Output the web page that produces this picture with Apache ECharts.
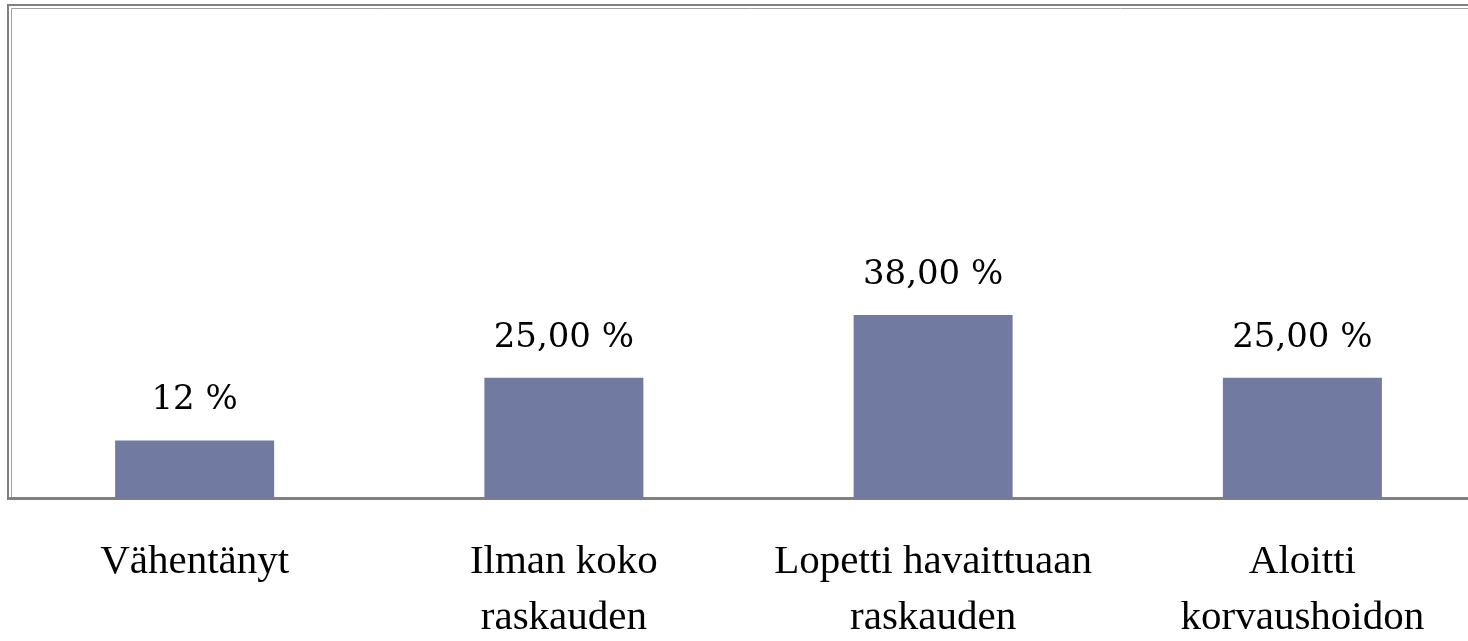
<!DOCTYPE html>
<html>
<head>
<meta charset="utf-8">
<style>
  html, body { margin: 0; padding: 0; background: #ffffff; overflow: hidden; }
  #chart { width: 1490px; height: 641px; }
</style>
<script src="https://cdn.jsdelivr.net/npm/echarts@6/dist/echarts.min.js"></script>
</head>
<body>
<div id="chart"></div>
<script>
// Categories (line breaks as shown under each bar)
const categories = [
  'Vähentänyt',
  'Ilman koko\nraskauden',
  'Lopetti havaittuaan\nraskauden',
  'Aloitti\nkorvaushoidon'
];
// Share of respondents, percent
const values = [12, 25, 38, 25];
// Decimals shown in each value label
const labelDecimals = [0, 2, 2, 2];

function formatPercent(v, d) {
  return v.toFixed(d).replace('.', ',') + ' %';
}

const chart = echarts.init(document.getElementById('chart'), null, { renderer: 'canvas' });

chart.setOption({
  backgroundColor: '#ffffff',
  animation: false,
  grid: {
    left: 10, top: 15.5, width: 1477, height: 483,
    containLabel: false,
    outerBoundsMode: 'none'
  },
  xAxis: {
    type: 'category',
    data: categories,
    axisLine: { show: true, lineStyle: { color: '#808080', width: 3 } },
    axisTick: { show: false },
    axisLabel: {
      interval: 0,
      margin: 36,
      color: '#000000',
      fontFamily: '"Liberation Serif", "Times New Roman", serif',
      fontSize: 41,
      lineHeight: 56
    }
  },
  yAxis: {
    type: 'value',
    min: 0,
    max: 100,
    show: false,
    splitLine: { show: false }
  },
  series: [{
    type: 'bar',
    data: values,
    barWidth: 159,
    itemStyle: { color: '#717ba2' },
    label: {
      show: true,
      position: 'top',
      distance: 23,
      color: '#000000',
      fontFamily: '"DejaVu Serif", serif',
      fontSize: 34,
      formatter: p => formatPercent(p.value, labelDecimals[p.dataIndex])
    }
  }],
  graphic: [
    {
      type: 'polyline',
      silent: true,
      shape: { points: [[8, 500], [8, 5], [1490, 5]] },
      style: { stroke: '#808080', lineWidth: 2, fill: null }
    },
    {
      type: 'polyline',
      silent: true,
      shape: { points: [[11.5, 498], [11.5, 8.5], [1490, 8.5]] },
      style: { stroke: '#a0a0a0', lineWidth: 1, fill: null }
    }
  ]
});
</script>
</body>
</html>
